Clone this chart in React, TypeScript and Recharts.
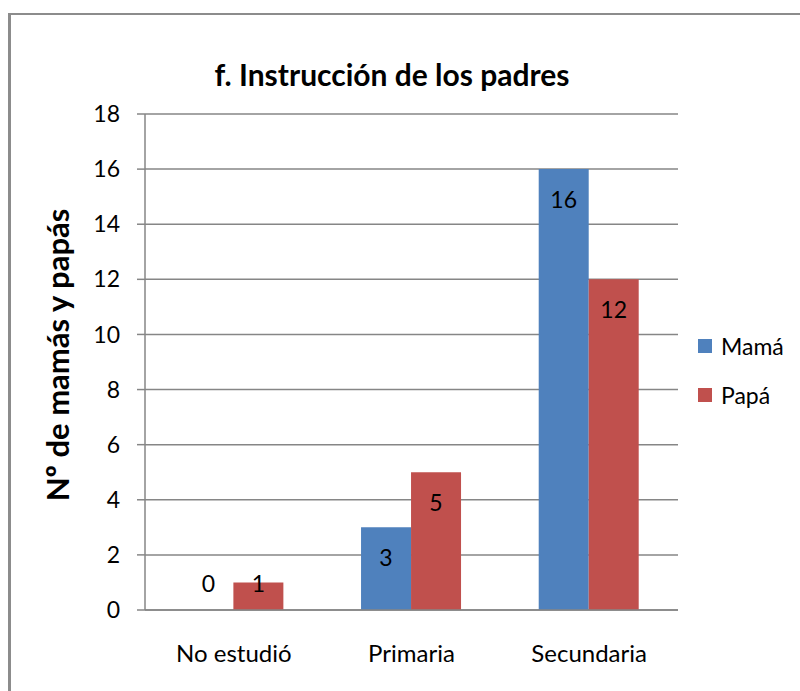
import { BarChart, Bar, XAxis, YAxis, CartesianGrid, Legend, LabelList } from "recharts"

const categories = ["No estudió", "Primaria", "Secundaria"]
const mamaValues = [0, 3, 16]
const papaValues = [1, 5, 12]
const yTicks = [0, 2, 4, 6, 8, 10, 12, 14, 16, 18]
const edgeTicks = [0, 1, 2, 3]

const data = categories.map((cat, i) => ({
  cat,
  mama: mamaValues[i],
  papa: papaValues[i],
}))

const FONT = "Lato, 'Open Sans', sans-serif"
const GRID = "#868686"
const BLUE = "#4F81BD"
const RED = "#C0504D"

// Excel-like "inside end" label, pushed up for short bars
const ValueLabel = (props: any) => {
  const { x, y, width, height, value } = props
  const base = y + height
  const cy = height > 56 ? y + 30 : base - 27
  return (
    <text
      x={x + width / 2}
      y={cy}
      textAnchor="middle"
      dominantBaseline="central"
      fontFamily={FONT}
      fontSize={23}
      fill="#000"
    >
      {value}
    </text>
  )
}

const LegendContent = (props: any) => {
  const items = props.payload || []
  return (
    <div style={{ fontFamily: FONT, fontSize: 23, color: "#000" }}>
      {items.map((it: any) => (
        <div
          key={it.value}
          style={{ display: "flex", alignItems: "center", height: 24, marginBottom: 25 }}
        >
          <span
            style={{ width: 14, height: 14, background: it.color, display: "inline-block", marginRight: 9 }}
          />
          <span>{it.value}</span>
        </div>
      ))}
    </div>
  )
}

export default function App() {
  return (
    <div style={{ position: "absolute", left: 0, top: 0, width: 800, height: 691, background: "#fff" }}>
      {/* chart frame (only left and top edges visible) */}
      <div
        style={{
          position: "absolute",
          left: 8,
          top: 13,
          width: 800,
          height: 700,
          borderLeft: "3px solid #8c8c8c",
          borderTop: "2px solid #8c8c8c",
        }}
      />
      <div
        style={{
          position: "absolute",
          left: 0,
          width: 784,
          top: 56,
          textAlign: "center",
          fontFamily: FONT,
          fontWeight: 700,
          fontSize: 30,
          color: "#000",
        }}
      >
        f. Instrucción de los padres
      </div>
      <div
        style={{
          position: "absolute",
          left: 57,
          top: 355,
          transform: "translate(-50%, -50%) rotate(-90deg)",
          whiteSpace: "nowrap",
          fontFamily: FONT,
          fontWeight: 700,
          fontSize: 31,
          color: "#000",
        }}
      >
        Nº de mamás y papás
      </div>
      <div style={{ position: "absolute", left: 0, top: 0 }}>
        <BarChart
          width={800}
          height={691}
          data={data}
          margin={{ top: 114, right: 122, bottom: 0, left: 0 }}
          barCategoryGap="21.6%"
          barGap={0}
        >
          <CartesianGrid vertical={false} stroke={GRID} strokeWidth={1.5} />
          <XAxis
            xAxisId="edges"
            type="number"
            domain={[0, 3]}
            ticks={edgeTicks}
            height={0}
            axisLine={false}
            tick={false}
            tickSize={6}
            tickLine={{ stroke: GRID, strokeWidth: 1.5 }}
          />
          <XAxis
            dataKey="cat"
            height={81}
            tickLine={false}
            axisLine={{ stroke: GRID, strokeWidth: 1.5 }}
            tick={{ fontFamily: FONT, fontSize: 24, fill: "#000" }}
            tickMargin={29}
          />
          <YAxis
            width={145}
            domain={[0, 18]}
            ticks={yTicks}
            interval={0}
            tickSize={8}
            tickMargin={17}
            axisLine={{ stroke: GRID, strokeWidth: 1.5 }}
            tickLine={{ stroke: GRID, strokeWidth: 1.5 }}
            tick={{ fontFamily: FONT, fontSize: 23, fill: "#000" }}
          />
          <Legend
            layout="vertical"
            align="center"
            verticalAlign="middle"
            wrapperStyle={{ left: 698, top: 334, width: 100 }}
            content={<LegendContent />}
          />
          <Bar dataKey="mama" name="Mamá" fill={BLUE} minPointSize={0.01} isAnimationActive={false}>
            <LabelList dataKey="mama" content={<ValueLabel />} />
          </Bar>
          <Bar dataKey="papa" name="Papá" fill={RED} minPointSize={0.01} isAnimationActive={false}>
            <LabelList dataKey="papa" content={<ValueLabel />} />
          </Bar>
        </BarChart>
      </div>
    </div>
  )
}
